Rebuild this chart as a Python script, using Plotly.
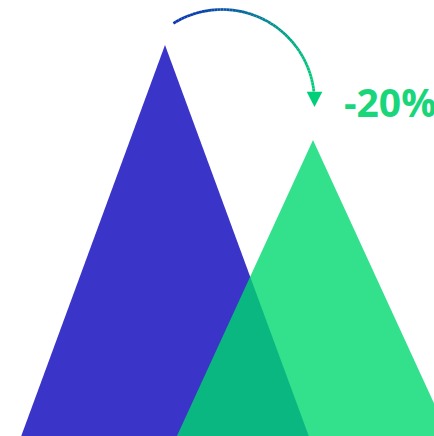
import numpy as np
import plotly.graph_objects as go

# ---- data ----
categories = ["Before", "After"]
values = [100, 80]
bar_colors = ["#3A35C8", "rgba(0,216,110,0.8)"]
change_pct = (values[1] - values[0]) / values[0] * 100
change_label = f"{change_pct:.0f}%"

# ---- layout constants ----
W, H = 434, 436
X_RANGE = [-1.1149, 1.8176]
Y_RANGE = [17.68, 109.47]
HALF_WIDTH = 1.18  # triangle half base width in category units


def px_to_data(px, py):
    x = X_RANGE[0] + px / W * (X_RANGE[1] - X_RANGE[0])
    y = Y_RANGE[1] - py / H * (Y_RANGE[1] - Y_RANGE[0])
    return x, y


fig = go.Figure()

# triangles (pictorial bars)
for i, (cat, v, col) in enumerate(zip(categories, values, bar_colors)):
    fig.add_trace(go.Scatter(
        x=[i - HALF_WIDTH, i, i + HALF_WIDTH, i - HALF_WIDTH],
        y=[0, v, 0, 0],
        fill="toself", fillcolor=col, mode="lines",
        line=dict(width=0, color=col), hoverinfo="skip", name=cat,
    ))

# curved gradient arrow (pixel-space geometry converted to data space)
cx, cy, r = 222.0, 102.0, 92.5
angles = np.radians(np.linspace(121.7, 6.5, 61))
apx = cx + r * np.cos(angles)
apy = cy - r * np.sin(angles)
c0 = np.array([10, 56, 176])
c1 = np.array([0, 206, 122])
xmin, xmax = apx.min(), apx.max()
for k in range(len(apx) - 1):
    t = ((apx[k] + apx[k + 1]) / 2 - xmin) / (xmax - xmin)
    t = t ** 1.6
    c = (c0 + (c1 - c0) * t).astype(int)
    x0, y0 = px_to_data(apx[k], apy[k])
    x1, y1 = px_to_data(apx[k + 1], apy[k + 1])
    fig.add_trace(go.Scatter(
        x=[x0, x1], y=[y0, y1], mode="lines",
        line=dict(width=2.7, color=f"rgb({c[0]},{c[1]},{c[2]})"),
        hoverinfo="skip",
    ))

# arrow head
head_px = [(306.7, 91.7), (322.3, 91.7), (314.5, 107.0), (306.7, 91.7)]
hx, hy = zip(*[px_to_data(a, b) for a, b in head_px])
fig.add_trace(go.Scatter(
    x=hx, y=hy, fill="toself", fillcolor="#00CF7A", mode="lines",
    line=dict(width=0, color="#00CF7A"), hoverinfo="skip",
))

lx, ly = px_to_data(342, 101)
fig.add_annotation(
    x=lx, y=ly, xanchor="left", yanchor="middle", showarrow=False,
    text=f"<b>{change_label}</b>",
    font=dict(family="Open Sans", size=39, color="#1AD67A"),
)

fig.update_layout(
    width=W, height=H, margin=dict(l=0, r=0, t=0, b=0),
    paper_bgcolor="white", plot_bgcolor="white", showlegend=False,
    xaxis=dict(range=X_RANGE, visible=False, fixedrange=True),
    yaxis=dict(range=Y_RANGE, visible=False, fixedrange=True),
)

fig.write_html(
    "out.html",
    config={"displayModeBar": False},
    post_script="document.body.style.margin='0';document.body.style.overflow='hidden';",
)
